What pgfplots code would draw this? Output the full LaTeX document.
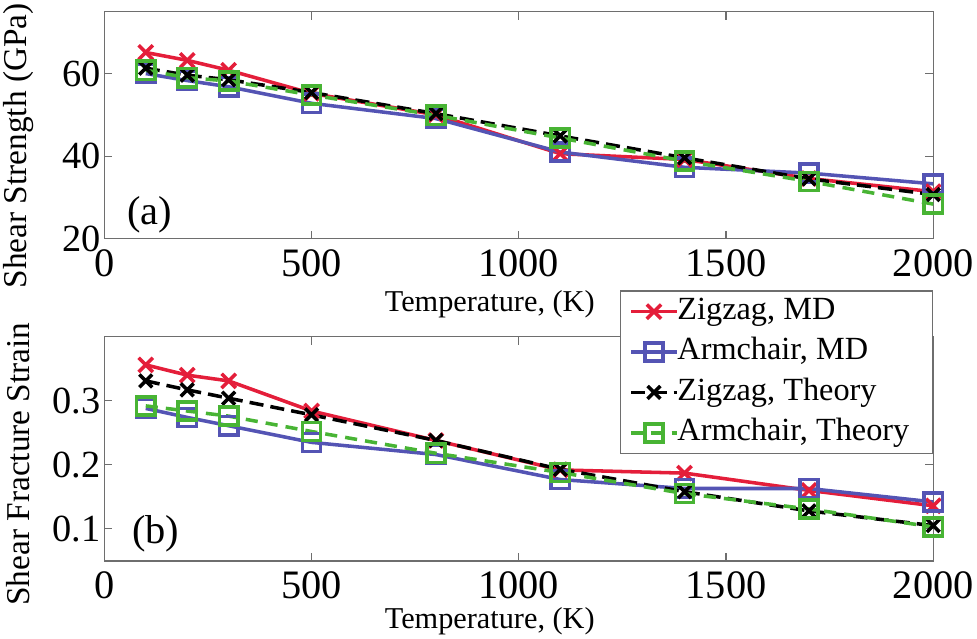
\documentclass[border=0pt]{standalone}
\usepackage{fontspec}
\setmainfont{Liberation Serif}
\usepackage{pgfplots}
\pgfplotsset{compat=1.18}

\definecolor{zzred}{RGB}{228,30,58}
\definecolor{acblue}{RGB}{84,84,180}
\definecolor{acgreen}{RGB}{72,180,52}
\definecolor{axgray}{RGB}{110,110,110}

\pgfplotsset{
  panel/.style={
    scale only axis, width=821pt,
    xmin=0, xmax=2000, xtick={0,500,...,2000},
    axis line style={axgray, line width=1.3pt},
    tick style={axgray, line width=1.3pt},
    major tick length=8pt,
    tick align=inside,
    /pgf/number format/assume math mode=true,
    /pgf/number format/1000 sep={},
    xticklabel style={font=\fontsize{40}{40}\selectfont, yshift=-7pt},
    yticklabel style={font=\fontsize{38}{38}\selectfont},
    xlabel style={font=\fontsize{30}{30}\selectfont, anchor=center},
    ylabel style={font=\fontsize{33}{33}\selectfont, anchor=center},
    every axis plot/.append style={line width=3.5pt},
    legend image code/.code={
      \draw[mark repeat=2, mark phase=2] plot coordinates {(0pt,0pt)(22.5pt,0pt)(45pt,0pt)};
    },
  },
  zzmd/.style={zzred, solid, mark=x, mark size=10pt, mark options={solid, line width=3.5pt}},
  acmd/.style={acblue, solid, mark=square, mark size=9pt, mark options={solid, line width=3.5pt}},
  zzth/.style={black, dash pattern=on 14pt off 7pt, mark=x, mark size=9pt, mark options={solid, line width=3.5pt}},
  acth/.style={acgreen, dash pattern=on 12pt off 8pt, mark=square, mark size=9pt, mark options={solid, line width=3.5pt}},
}

\begin{document}
\begin{tikzpicture}
% (a) shear strength
\begin{axis}[panel, at={(0pt,319pt)}, height=225pt,
  ymin=20, ymax=75, ytick={20,40,60},
  xlabel={Temperature, (K)},
  xlabel style={at={(axis description cs:0.465,-0.289)}},
  ylabel={Shear Strength (GPa)},
  ylabel style={at={(axis description cs:-0.1035,0.409)}},
]
\addplot[zzmd] coordinates {(100,65.1)(200,63.2)(300,60.8)(500,55.2)(800,50.0)(1100,40.6)(1400,39.2)(1700,34.6)(2000,31.4)};
\addplot[acmd] coordinates {(100,60.0)(200,58.3)(300,56.8)(500,52.8)(800,49.1)(1100,41.0)(1400,37.3)(1700,35.9)(2000,33.3)};
\addplot[zzth] coordinates {(100,61.3)(200,59.6)(300,58.5)(500,55.4)(800,50.3)(1100,44.9)(1400,39.6)(1700,34.5)(2000,30.7)};
\addplot[acth] coordinates {(100,60.8)(200,59.0)(300,58.2)(500,54.8)(800,49.9)(1100,44.4)(1400,38.8)(1700,33.9)(2000,28.4)};
\node[font=\fontsize{40}{40}\selectfont] at (rel axis cs:0.055,0.107) {(a)};
\end{axis}

% (b) shear fracture strain
\begin{axis}[panel, at={(0pt,0pt)}, height=222pt,
  ymin=0.05, ymax=0.4, ytick={0.1,0.2,0.3},
  yticklabel style={/pgf/number format/fixed, /pgf/number format/precision=1},
  xlabel={Temperature, (K)},
  xlabel style={at={(axis description cs:0.465,-0.27)}},
  ylabel={Shear Fracture Strain},
  ylabel style={at={(axis description cs:-0.1035,0.432)}},
  legend style={at={(rel axis cs:1,1.207)}, anchor=north east,
    draw=axgray, line width=1.3pt, fill=white,
    font=\fontsize{32}{32}\selectfont,
    nodes={inner sep=0pt, text height=23pt, text depth=8pt},
    /tikz/every odd column/.append style={column sep=-1pt},
    row sep=9pt, inner xsep=9pt, inner ysep=5pt},
  legend cell align=left,
]
\addplot[zzmd] coordinates {(100,0.356)(200,0.340)(300,0.331)(500,0.284)(800,0.238)(1100,0.192)(1400,0.187)(1700,0.160)(2000,0.136)};
\addlegendentry{Zigzag, MD}
\addplot[acmd] coordinates {(100,0.288)(200,0.274)(300,0.261)(500,0.235)(800,0.216)(1100,0.177)(1400,0.163)(1700,0.163)(2000,0.142)};
\addlegendentry{Armchair, MD}
\addplot[zzth] coordinates {(100,0.331)(200,0.317)(300,0.304)(500,0.278)(800,0.238)(1100,0.193)(1400,0.158)(1700,0.128)(2000,0.105)};
\addlegendentry{Zigzag, Theory}
\addplot[acth] coordinates {(100,0.292)(200,0.284)(300,0.276)(500,0.252)(800,0.218)(1100,0.188)(1400,0.155)(1700,0.131)(2000,0.103)};
\addlegendentry{Armchair, Theory\hspace*{14pt}}
\node[font=\fontsize{40}{40}\selectfont] at (rel axis cs:0.062,0.12) {(b)};
\end{axis}
\end{tikzpicture}
\end{document}
